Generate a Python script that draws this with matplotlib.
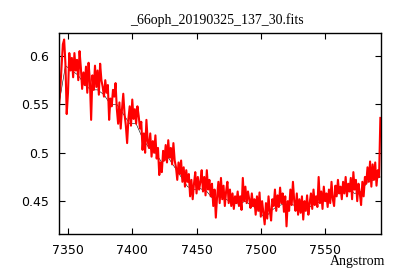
import numpy as np
import matplotlib
matplotlib.use('Agg')
import matplotlib.pyplot as plt

# red spectrum, 1 Angstrom step starting at 7343
start_red = 7343
flux_red = [
    0.548, 0.566, 0.590, 0.612, 0.617, 0.592, 0.540, 0.562, 0.603, 0.585,
    0.598, 0.578, 0.603, 0.585, 0.596, 0.575, 0.605, 0.588, 0.566, 0.583,
    0.570, 0.589, 0.562, 0.593, 0.575, 0.534, 0.580, 0.565, 0.590, 0.568,
    0.585, 0.560, 0.592, 0.575, 0.568, 0.558, 0.575, 0.562, 0.570, 0.534,
    0.556, 0.548, 0.565, 0.558, 0.572, 0.545, 0.530, 0.552, 0.525, 0.545,
    0.561, 0.540, 0.528, 0.510, 0.535, 0.548, 0.528, 0.555, 0.535, 0.545,
    0.530, 0.548, 0.538, 0.525, 0.532, 0.503, 0.520, 0.500, 0.534, 0.512,
    0.505, 0.520, 0.496, 0.512, 0.500, 0.518, 0.494, 0.505, 0.477, 0.490,
    0.480, 0.502, 0.492, 0.508, 0.490, 0.513, 0.495, 0.505, 0.488, 0.510,
    0.492, 0.485, 0.472, 0.490, 0.478, 0.492, 0.470, 0.485, 0.465, 0.482,
    0.470, 0.478, 0.455, 0.472, 0.452, 0.468, 0.480, 0.458, 0.475, 0.462,
    0.470, 0.482, 0.460, 0.475, 0.456, 0.482, 0.462, 0.472, 0.455, 0.468,
    0.445, 0.462, 0.433, 0.455, 0.470, 0.448, 0.474, 0.452, 0.466, 0.445,
    0.460, 0.470, 0.448, 0.462, 0.445, 0.458, 0.442, 0.455, 0.448, 0.460,
    0.445, 0.455, 0.441, 0.474, 0.450, 0.465, 0.448, 0.460, 0.452, 0.443,
    0.458, 0.445, 0.452, 0.436, 0.455, 0.440, 0.459, 0.434, 0.450, 0.438,
    0.426, 0.448, 0.432, 0.455, 0.440, 0.430, 0.452, 0.445, 0.462, 0.440,
    0.456, 0.444, 0.464, 0.448, 0.458, 0.439, 0.455, 0.424, 0.450, 0.440,
    0.462, 0.446, 0.470, 0.450, 0.440, 0.458, 0.436, 0.452, 0.438, 0.455,
    0.431, 0.450, 0.440, 0.456, 0.436, 0.448, 0.458, 0.442, 0.462, 0.446,
    0.455, 0.444, 0.475, 0.448, 0.460, 0.442, 0.465, 0.450, 0.458, 0.444,
    0.462, 0.448, 0.470, 0.452, 0.445, 0.466, 0.455, 0.472, 0.458, 0.465,
    0.452, 0.470, 0.458, 0.475, 0.455, 0.468, 0.460, 0.474, 0.452, 0.480,
    0.462, 0.472, 0.450, 0.468, 0.458, 0.446, 0.470, 0.455, 0.475, 0.468,
    0.485, 0.470, 0.491, 0.465, 0.488, 0.472, 0.490, 0.466, 0.482, 0.475,
    0.536,
]

# black spectrum (mostly hidden under the red one), 5 Angstrom step
start_black = 7343
flux_black = [
    0.550, 0.590, 0.585, 0.580, 0.570, 0.565, 0.565, 0.560, 0.550, 0.550,
    0.540, 0.530, 0.530, 0.515, 0.505, 0.500, 0.490, 0.495, 0.485, 0.475,
    0.465, 0.462, 0.463, 0.460, 0.452, 0.455, 0.452, 0.448, 0.447, 0.450,
    0.445, 0.442, 0.432, 0.440, 0.445, 0.447, 0.447, 0.445, 0.443, 0.444,
    0.448, 0.450, 0.453, 0.456, 0.460, 0.462, 0.458, 0.460, 0.470, 0.472,
    0.475,
]

title = '_66oph_20190325_137_30.fits'
xlabel = 'Angstrom'
xticks = [7350, 7400, 7450, 7500, 7550]
yticks = [0.45, 0.5, 0.55, 0.6]
ytick_labels = ['0.45', '0.5', '0.55', '0.6']

wl_red = start_red + np.arange(len(flux_red))
wl_black = start_black + 5 * np.arange(len(flux_black))

fig = plt.figure(figsize=(4, 2.8), dpi=100)
ax = fig.add_axes([0.1475, 0.164, 0.805, 0.718])

ax.plot(wl_black, flux_black, color='black', lw=0.4)
ax.plot(wl_red, flux_red, color='red', lw=1.5)

ax.set_xlim(7343, 7593.5)
ax.set_ylim(0.416, 0.6237)
ax.set_xticks(xticks)
ax.set_yticks(yticks)
ax.set_yticklabels(ytick_labels)
ax.tick_params(direction='in', length=4, width=0.8, top=True, right=True,
               labelsize=9, pad=7)
for s in ax.spines.values():
    s.set_linewidth(1.0)

fig.text(0.543, 0.928, title, ha='center', va='center',
         fontsize=10, family='Liberation Serif')
fig.text(0.963, 0.065, xlabel, ha='right', va='center',
         fontsize=10, family='Liberation Serif')

fig.savefig('out.png', dpi=100)
